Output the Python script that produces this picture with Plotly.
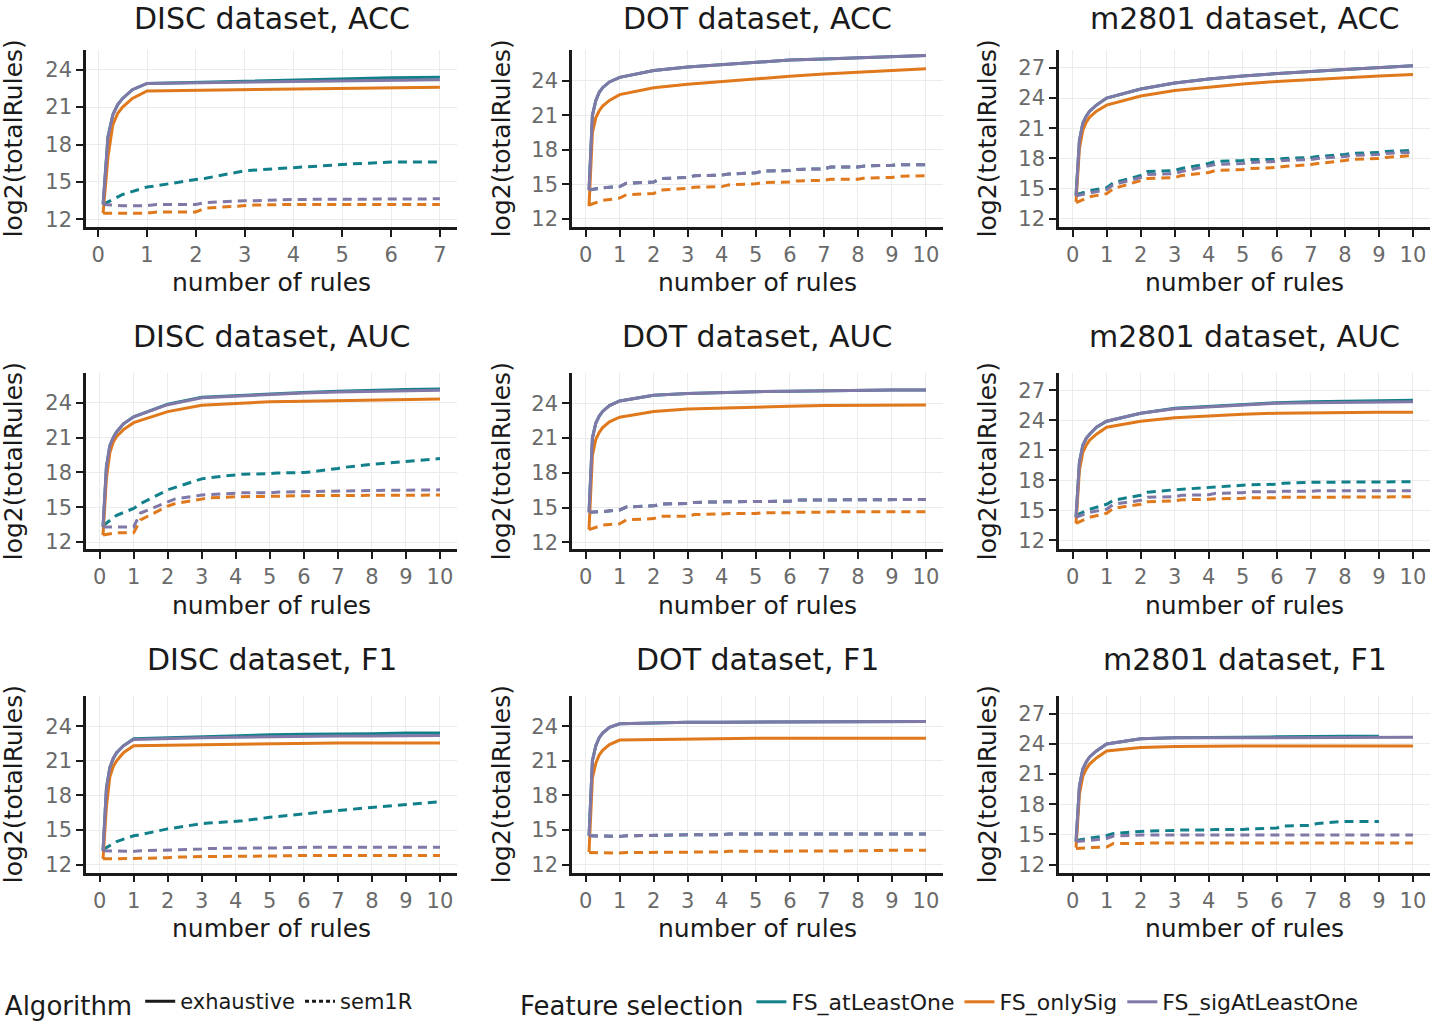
import plotly.graph_objects as go
from plotly.subplots import make_subplots

# x positions of the curves (number of rules)
X_SOLID = [0.1, 0.2, 0.3, 0.4, 0.5, 0.7, 1, 2, 3, 4, 5, 6, 7, 8, 9, 10]
X_DASH = [0.1, 0.5, 1, 1.2, 2, 2.2, 3, 3.2, 4, 4.2, 5, 5.2, 6, 6.2, 7, 7.2, 8, 8.2, 9, 9.2, 10]

# ---- DISC, ACC (only up to 7 rules)
DISC_ACC_ATL_EX = [13.2, 18.6, 20.4, 21.2, 21.7, 22.4, 22.9, 23.0, 23.1, 23.2, 23.3, 23.35, 23.4]
DISC_ACC_ONLY_EX = [12.5, 17.0, 19.6, 20.5, 21.0, 21.7, 22.3, 22.35, 22.45, 22.5, 22.55, 22.6, 22.6]
DISC_ACC_SIG_EX = [13.2, 18.6, 20.4, 21.2, 21.7, 22.4, 22.9, 22.95, 23.0, 23.05, 23.1, 23.15, 23.2]
DISC_ACC_ATL_SEM = [13.2, 14.0, 14.6, 14.7, 15.2, 15.3, 15.9, 15.95, 16.2, 16.25, 16.4, 16.45, 16.6, 16.6, 16.6]
DISC_ACC_ONLY_SEM = [12.5, 12.5, 12.5, 12.6, 12.6, 12.9, 13.1, 13.15, 13.2, 13.2, 13.2, 13.2, 13.2, 13.2, 13.2]
DISC_ACC_SIG_SEM = [13.2, 13.1, 13.1, 13.2, 13.2, 13.35, 13.5, 13.5, 13.6, 13.6, 13.6, 13.6, 13.65, 13.65, 13.65]

# ---- DOT, ACC
DOT_ACC_ATL_EX = [14.5, 21.0, 22.3, 23.0, 23.4, 23.9, 24.3, 24.9, 25.2, 25.4, 25.6, 25.8, 25.9, 26.0, 26.1, 26.2]
DOT_ACC_ONLY_EX = [13.1, 19.5, 20.8, 21.4, 21.8, 22.3, 22.8, 23.4, 23.7, 23.95, 24.2, 24.4, 24.6, 24.75, 24.9, 25.05]
DOT_ACC_SIG_EX = [14.5, 21.0, 22.3, 23.0, 23.4, 23.9, 24.3, 24.9, 25.2, 25.4, 25.6, 25.8, 25.9, 26.0, 26.1, 26.2]
DOT_ACC_ATL_SEM = [14.5, 14.7, 14.8, 15.1, 15.2, 15.5, 15.6, 15.75, 15.8, 15.9, 16.0, 16.15, 16.2, 16.3, 16.35, 16.5, 16.5, 16.6, 16.65, 16.7, 16.7]
DOT_ACC_ONLY_SEM = [13.2, 13.6, 13.8, 14.1, 14.2, 14.5, 14.65, 14.75, 14.8, 14.95, 15.05, 15.15, 15.2, 15.3, 15.35, 15.45, 15.45, 15.55, 15.6, 15.7, 15.75]
DOT_ACC_SIG_SEM = [14.5, 14.7, 14.8, 15.1, 15.2, 15.5, 15.6, 15.75, 15.8, 15.9, 16.0, 16.15, 16.2, 16.3, 16.35, 16.5, 16.5, 16.6, 16.65, 16.7, 16.7]

# ---- m2801, ACC
M_ACC_ATL_EX = [14.3, 19.8, 21.5, 22.2, 22.7, 23.3, 24.0, 24.9, 25.5, 25.9, 26.2, 26.45, 26.65, 26.85, 27.0, 27.2]
M_ACC_ONLY_EX = [13.7, 19.0, 20.8, 21.6, 22.1, 22.7, 23.3, 24.2, 24.75, 25.1, 25.4, 25.65, 25.85, 26.05, 26.2, 26.35]
M_ACC_SIG_EX = [14.3, 19.8, 21.5, 22.2, 22.7, 23.3, 24.0, 24.9, 25.5, 25.9, 26.2, 26.45, 26.65, 26.85, 27.0, 27.2]
M_ACC_ATL_SEM = [14.4, 14.8, 15.1, 15.6, 16.3, 16.7, 16.8, 17.0, 17.5, 17.7, 17.8, 17.9, 17.9, 18.0, 18.1, 18.2, 18.4, 18.5, 18.6, 18.7, 18.8]
M_ACC_ONLY_SEM = [13.6, 14.2, 14.5, 15.0, 15.8, 16.0, 16.1, 16.3, 16.6, 16.8, 16.9, 17.0, 17.1, 17.2, 17.4, 17.5, 17.8, 17.9, 18.0, 18.1, 18.3]
M_ACC_SIG_SEM = [14.3, 14.6, 14.9, 15.4, 16.1, 16.4, 16.5, 16.7, 17.2, 17.4, 17.5, 17.6, 17.7, 17.8, 17.9, 18.0, 18.2, 18.3, 18.4, 18.5, 18.6]

# ---- DISC, AUC
DISC_AUC_ATL_EX = [13.3, 18.5, 20.3, 21.0, 21.5, 22.2, 22.8, 23.9, 24.5, 24.65, 24.8, 24.9, 25.0, 25.1, 25.15, 25.2]
DISC_AUC_ONLY_EX = [12.6, 17.5, 19.7, 20.6, 21.1, 21.7, 22.3, 23.25, 23.8, 23.95, 24.1, 24.15, 24.2, 24.25, 24.3, 24.35]
DISC_AUC_SIG_EX = [13.3, 18.5, 20.3, 21.0, 21.5, 22.2, 22.8, 23.85, 24.45, 24.6, 24.75, 24.85, 24.95, 25.0, 25.05, 25.1]
DISC_AUC_ATL_SEM = [13.4, 14.3, 14.9, 15.3, 16.5, 16.7, 17.45, 17.55, 17.8, 17.85, 17.9, 17.95, 18.0, 18.05, 18.35, 18.45, 18.7, 18.75, 18.95, 19.0, 19.2]
DISC_AUC_ONLY_SEM = [12.6, 12.8, 12.8, 13.9, 15.1, 15.3, 15.7, 15.8, 15.9, 15.9, 15.95, 15.95, 16.0, 16.0, 16.0, 16.0, 16.05, 16.05, 16.05, 16.05, 16.05]
DISC_AUC_SIG_SEM = [13.3, 13.3, 13.3, 14.5, 15.5, 15.7, 16.05, 16.1, 16.2, 16.25, 16.25, 16.3, 16.35, 16.35, 16.4, 16.4, 16.45, 16.45, 16.5, 16.5, 16.5]

# ---- DOT, AUC
DOT_AUC_ATL_EX = [14.6, 21.0, 22.3, 22.9, 23.3, 23.8, 24.2, 24.7, 24.85, 24.95, 25.0, 25.05, 25.1, 25.1, 25.15, 25.15]
DOT_AUC_ONLY_EX = [13.1, 19.5, 20.9, 21.5, 21.9, 22.4, 22.8, 23.3, 23.5, 23.6, 23.7, 23.75, 23.8, 23.8, 23.85, 23.85]
DOT_AUC_SIG_EX = [14.6, 21.0, 22.3, 22.9, 23.3, 23.8, 24.2, 24.7, 24.85, 24.95, 25.0, 25.05, 25.1, 25.1, 25.15, 25.15]
DOT_AUC_ATL_SEM = [14.6, 14.65, 14.8, 15.05, 15.15, 15.3, 15.35, 15.45, 15.5, 15.5, 15.5, 15.55, 15.55, 15.65, 15.65, 15.7, 15.7, 15.7, 15.7, 15.7, 15.7]
DOT_AUC_ONLY_SEM = [13.1, 13.5, 13.6, 13.95, 14.05, 14.25, 14.25, 14.4, 14.45, 14.5, 14.5, 14.55, 14.55, 14.6, 14.6, 14.65, 14.65, 14.65, 14.65, 14.65, 14.65]
DOT_AUC_SIG_SEM = [14.6, 14.65, 14.8, 15.05, 15.15, 15.3, 15.35, 15.45, 15.5, 15.5, 15.5, 15.55, 15.55, 15.65, 15.65, 15.7, 15.7, 15.7, 15.7, 15.7, 15.7]

# ---- m2801, AUC
M_AUC_ATL_EX = [14.3, 19.8, 21.5, 22.2, 22.6, 23.3, 23.9, 24.7, 25.2, 25.4, 25.55, 25.75, 25.85, 25.9, 25.95, 26.0]
M_AUC_ONLY_EX = [13.7, 19.0, 20.8, 21.5, 22.0, 22.6, 23.3, 23.9, 24.25, 24.45, 24.6, 24.7, 24.75, 24.8, 24.8, 24.8]
M_AUC_SIG_EX = [14.3, 19.8, 21.5, 22.2, 22.6, 23.3, 23.9, 24.7, 25.15, 25.35, 25.55, 25.7, 25.75, 25.8, 25.85, 25.85]
M_AUC_ATL_SEM = [14.5, 15.1, 15.6, 16.0, 16.5, 16.8, 17.05, 17.1, 17.25, 17.35, 17.5, 17.55, 17.6, 17.7, 17.8, 17.8, 17.85, 17.85, 17.85, 17.85, 17.85]
M_AUC_ONLY_SEM = [13.7, 14.3, 14.7, 15.2, 15.6, 15.85, 15.95, 16.05, 16.1, 16.15, 16.2, 16.25, 16.25, 16.3, 16.3, 16.3, 16.35, 16.35, 16.35, 16.35, 16.35]
M_AUC_SIG_SEM = [14.3, 14.8, 15.1, 15.6, 16.0, 16.3, 16.35, 16.5, 16.55, 16.7, 16.75, 16.85, 16.85, 16.9, 16.9, 16.95, 16.95, 16.95, 16.95, 16.95, 16.95]

# ---- DISC, F1
DISC_F1_ATL_EX = [13.2, 18.6, 20.4, 21.2, 21.7, 22.3, 22.9, 23.0, 23.1, 23.15, 23.25, 23.3, 23.3, 23.35, 23.4, 23.4]
DISC_F1_ONLY_EX = [12.5, 17.0, 19.6, 20.5, 21.0, 21.7, 22.3, 22.35, 22.4, 22.45, 22.5, 22.5, 22.55, 22.55, 22.55, 22.55]
DISC_F1_SIG_EX = [13.2, 18.6, 20.4, 21.2, 21.7, 22.3, 22.85, 22.95, 23.0, 23.05, 23.1, 23.1, 23.15, 23.15, 23.2, 23.2]
DISC_F1_ATL_SEM = [13.3, 14.0, 14.5, 14.6, 15.1, 15.2, 15.55, 15.6, 15.75, 15.8, 16.1, 16.15, 16.35, 16.45, 16.7, 16.75, 16.95, 17.0, 17.15, 17.25, 17.45]
DISC_F1_ONLY_SEM = [12.5, 12.5, 12.5, 12.55, 12.6, 12.65, 12.7, 12.7, 12.75, 12.75, 12.75, 12.75, 12.8, 12.8, 12.8, 12.8, 12.8, 12.8, 12.8, 12.8, 12.8]
DISC_F1_SIG_SEM = [13.2, 13.15, 13.15, 13.2, 13.25, 13.3, 13.35, 13.4, 13.4, 13.45, 13.45, 13.45, 13.5, 13.5, 13.5, 13.5, 13.5, 13.5, 13.5, 13.5, 13.5]

# ---- DOT, F1
DOT_F1_ATL_EX = [14.5, 21.0, 22.3, 23.0, 23.4, 23.9, 24.2, 24.3, 24.35, 24.35, 24.35, 24.4, 24.4, 24.4, 24.4, 24.4]
DOT_F1_ONLY_EX = [13.1, 19.5, 20.8, 21.5, 21.9, 22.4, 22.8, 22.85, 22.9, 22.9, 22.95, 22.95, 22.95, 22.95, 22.95, 22.95]
DOT_F1_SIG_EX = [14.5, 21.0, 22.3, 23.0, 23.4, 23.9, 24.2, 24.3, 24.35, 24.35, 24.35, 24.4, 24.4, 24.4, 24.4, 24.4]
DOT_F1_ATL_SEM = [14.5, 14.45, 14.45, 14.5, 14.55, 14.55, 14.6, 14.6, 14.6, 14.65, 14.65, 14.65, 14.65, 14.65, 14.65, 14.65, 14.65, 14.65, 14.65, 14.65, 14.65]
DOT_F1_ONLY_SEM = [13.05, 13.0, 13.0, 13.05, 13.05, 13.1, 13.1, 13.1, 13.1, 13.15, 13.15, 13.15, 13.15, 13.2, 13.2, 13.2, 13.2, 13.2, 13.25, 13.25, 13.25]
DOT_F1_SIG_SEM = [14.5, 14.45, 14.45, 14.5, 14.55, 14.55, 14.6, 14.6, 14.6, 14.65, 14.65, 14.65, 14.65, 14.65, 14.65, 14.65, 14.65, 14.65, 14.65, 14.65, 14.65]

# ---- m2801, F1 (FS_atLeastOne stops at 9 rules)
M_F1_ATL_EX = [14.3, 19.8, 21.5, 22.2, 22.7, 23.3, 24.0, 24.5, 24.6, 24.6, 24.65, 24.7, 24.75, 24.75, 24.75, None]
M_F1_ONLY_EX = [13.7, 19.0, 20.8, 21.5, 22.0, 22.6, 23.3, 23.65, 23.75, 23.8, 23.8, 23.8, 23.8, 23.8, 23.8, 23.8]
M_F1_SIG_EX = [14.3, 19.8, 21.5, 22.2, 22.7, 23.3, 24.0, 24.5, 24.6, 24.6, 24.65, 24.65, 24.65, 24.65, 24.65, 24.65]
M_F1_ATL_SEM = [14.4, 14.6, 14.9, 15.1, 15.25, 15.35, 15.4, 15.45, 15.45, 15.5, 15.5, 15.55, 15.65, 15.85, 15.9, 16.1, 16.3, 16.3, 16.3, None, None]
M_F1_ONLY_SEM = [13.6, 13.7, 13.75, 14.1, 14.1, 14.15, 14.15, 14.15, 14.15, 14.15, 14.15, 14.15, 14.15, 14.15, 14.15, 14.15, 14.15, 14.15, 14.15, 14.15, 14.15]
M_F1_SIG_SEM = [14.3, 14.4, 14.6, 14.85, 14.95, 14.95, 14.95, 14.95, 14.95, 14.95, 14.95, 14.95, 14.95, 14.95, 14.95, 14.95, 14.95, 14.95, 14.95, 14.95, 14.95]

TITLES = ["DISC dataset, ACC", "DOT dataset, ACC", "m2801 dataset, ACC",
          "DISC dataset, AUC", "DOT dataset, AUC", "m2801 dataset, AUC",
          "DISC dataset, F1", "DOT dataset, F1", "m2801 dataset, F1"]

SERIES = [
    [DISC_ACC_ATL_EX, DISC_ACC_ONLY_EX, DISC_ACC_SIG_EX, DISC_ACC_ATL_SEM, DISC_ACC_ONLY_SEM, DISC_ACC_SIG_SEM],
    [DOT_ACC_ATL_EX, DOT_ACC_ONLY_EX, DOT_ACC_SIG_EX, DOT_ACC_ATL_SEM, DOT_ACC_ONLY_SEM, DOT_ACC_SIG_SEM],
    [M_ACC_ATL_EX, M_ACC_ONLY_EX, M_ACC_SIG_EX, M_ACC_ATL_SEM, M_ACC_ONLY_SEM, M_ACC_SIG_SEM],
    [DISC_AUC_ATL_EX, DISC_AUC_ONLY_EX, DISC_AUC_SIG_EX, DISC_AUC_ATL_SEM, DISC_AUC_ONLY_SEM, DISC_AUC_SIG_SEM],
    [DOT_AUC_ATL_EX, DOT_AUC_ONLY_EX, DOT_AUC_SIG_EX, DOT_AUC_ATL_SEM, DOT_AUC_ONLY_SEM, DOT_AUC_SIG_SEM],
    [M_AUC_ATL_EX, M_AUC_ONLY_EX, M_AUC_SIG_EX, M_AUC_ATL_SEM, M_AUC_ONLY_SEM, M_AUC_SIG_SEM],
    [DISC_F1_ATL_EX, DISC_F1_ONLY_EX, DISC_F1_SIG_EX, DISC_F1_ATL_SEM, DISC_F1_ONLY_SEM, DISC_F1_SIG_SEM],
    [DOT_F1_ATL_EX, DOT_F1_ONLY_EX, DOT_F1_SIG_EX, DOT_F1_ATL_SEM, DOT_F1_ONLY_SEM, DOT_F1_SIG_SEM],
    [M_F1_ATL_EX, M_F1_ONLY_EX, M_F1_SIG_EX, M_F1_ATL_SEM, M_F1_ONLY_SEM, M_F1_SIG_SEM],
]

Y_RANGES = [[11.4, 25.6], [11.3, 26.7], [11.2, 28.8],
            [11.37, 26.57], [11.4, 26.6], [11.1, 28.7],
            [11.3, 26.65], [11.3, 26.65], [11.2, 28.8]]

FS_NAMES = ["FS_atLeastOne", "FS_onlySig", "FS_sigAtLeastOne"]
COLORS = ["#12808A", "#E0781C", "#8079A8"]
FONT = "DejaVu Sans"
TICK_GREY = "#6a6a6a"
DASH = "9px,6px"

# panel positions in pixels (figure is 1431 x 1025)
W, H = 1431, 1025
COL_X = [(86, 457), (572, 943), (1059, 1430)]
ROW_Y = [(50, 228), (375, 552), (699, 877)]

fig = make_subplots(rows=3, cols=3)

for p in range(9):
    r, c = divmod(p, 3)
    vals = SERIES[p]
    for k in range(3):
        ys = vals[k]
        fig.add_trace(go.Scatter(x=X_SOLID[:len(ys)], y=ys, mode="lines",
                                 line=dict(color=COLORS[k], width=3),
                                 showlegend=False, hoverinfo="skip"),
                      row=r + 1, col=c + 1)
        ys = vals[k + 3]
        fig.add_trace(go.Scatter(x=X_DASH[:len(ys)], y=ys, mode="lines",
                                 line=dict(color=COLORS[k], width=3, dash=DASH),
                                 showlegend=False, hoverinfo="skip"),
                      row=r + 1, col=c + 1)

# legend entries
fig.add_trace(go.Scatter(x=[None], y=[None], mode="lines", name="exhaustive",
                         line=dict(color="#1a1a1a", width=3), legend="legend"))
fig.add_trace(go.Scatter(x=[None], y=[None], mode="lines", name="sem1R",
                         line=dict(color="#1a1a1a", width=3, dash="4px,3px"), legend="legend"))
for k in range(3):
    fig.add_trace(go.Scatter(x=[None], y=[None], mode="lines", name=FS_NAMES[k],
                             line=dict(color=COLORS[k], width=3), legend="legend2"))

annotations = []
for p in range(9):
    r, c = divmod(p, 3)
    x0, x1 = COL_X[c]
    y0, y1 = ROW_Y[r]
    idx = "" if p == 0 else str(p + 1)
    xmax = 7 if p == 0 else 10
    xrange = [-0.25, 7.35] if p == 0 else [-0.4, 10.5]
    yticks = [12, 15, 18, 21, 24, 27] if c == 2 else [12, 15, 18, 21, 24]
    fig.layout["xaxis" + idx].update(
        domain=[x0 / W, x1 / W], range=xrange, tickvals=list(range(0, xmax + 1)),
        showgrid=True, gridcolor="#EBEBEB", gridwidth=1.3, zeroline=False,
        showline=True, linecolor="#1a1a1a", linewidth=2.5,
        ticks="outside", ticklen=7, tickwidth=2, tickcolor="#1a1a1a",
        tickfont=dict(size=21, color=TICK_GREY, family=FONT))
    fig.layout["yaxis" + idx].update(
        domain=[1 - y1 / H, 1 - y0 / H], range=Y_RANGES[p], tickvals=yticks,
        showgrid=True, gridcolor="#EBEBEB", gridwidth=1.3, zeroline=False,
        showline=True, linecolor="#1a1a1a", linewidth=2.5,
        ticks="outside", ticklen=7, tickwidth=2, tickcolor="#1a1a1a",
        tickfont=dict(size=21, color=TICK_GREY, family=FONT))

    cx = (x0 + x1) / 2 / W
    xlab_y = [284, 608, 933][r]
    ylab_x = [13, 501, 987][c]
    if r == 0:
        title_pos = dict(y=1.0, yanchor="top")
    else:
        title_pos = dict(y=1 - [0, 338, 663][r] / H, yanchor="middle")
    annotations.append(dict(text=TITLES[p], x=cx, xref="paper", yref="paper",
                            showarrow=False, xanchor="center", borderpad=0,
                            font=dict(size=30, color="#1a1a1a", family=FONT), **title_pos))
    annotations.append(dict(text="number of rules", x=cx, y=1 - xlab_y / H, xref="paper", yref="paper",
                            showarrow=False, xanchor="center", yanchor="middle",
                            font=dict(size=25, color="#1a1a1a", family=FONT)))
    annotations.append(dict(text="log2(totalRules)", x=ylab_x / W, y=1 - (y0 + y1) / 2 / H,
                            xref="paper", yref="paper", textangle=-90,
                            showarrow=False, xanchor="center", yanchor="middle",
                            font=dict(size=25, color="#1a1a1a", family=FONT)))

fig.update_layout(
    width=W, height=H,
    margin=dict(l=0, r=0, t=0, b=0),
    plot_bgcolor="white", paper_bgcolor="white",
    font=dict(family=FONT, color="#1a1a1a"),
    annotations=annotations,
    legend=dict(orientation="h", x=0.002, y=1 - 1008 / H, xanchor="left", yanchor="middle",
                title=dict(text="Algorithm", font=dict(size=26)),
                font=dict(size=21), bgcolor="rgba(0,0,0,0)"),
    legend2=dict(orientation="h", x=518 / W, y=1 - 1008 / H, xanchor="left", yanchor="middle",
                 title=dict(text="Feature selection", font=dict(size=26)),
                 font=dict(size=22), bgcolor="rgba(0,0,0,0)"),
)

fig.write_html("out.html", config={"displayModeBar": False},
               post_script="document.body.style.margin='0';")
